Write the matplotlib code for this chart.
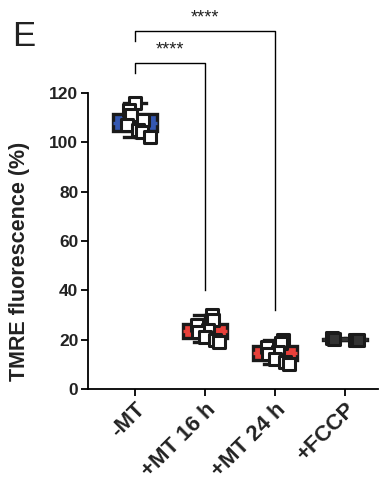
import matplotlib
matplotlib.use("Agg")
import matplotlib.pyplot as plt
import matplotlib.transforms as mtransforms
import numpy as np

plt.rcParams['font.family'] = ['Liberation Sans', 'DejaVu Sans']

categories = ['-MT', '+MT 16 h', '+MT 24 h', '+FCCP']
minus_mt = [116, 113, 111, 109, 107, 105, 104, 102]
mt_16h = [30, 28, 26, 24, 23, 21, 20, 19]
mt_24h = [20, 18.5, 17, 15, 14, 12, 11, 10]
fccp = [20.6, 20.3, 20.0, 19.8]
groups = [minus_mt, mt_16h, mt_24h, fccp]
colors = ['#3457b0', '#e8403a', '#e8403a', '#111111']
yticks = [0, 20, 40, 60, 80, 100, 120]
sig_pairs = [(0, 1, '****'), (0, 2, '****')]

jitter = [
    [0.0, -0.08, -0.05, 0.12, -0.12, 0.05, 0.1, 0.22],
    [0.1, 0.12, -0.12, 0.05, -0.1, 0.0, 0.15, 0.2],
    [0.12, 0.08, -0.12, 0.05, -0.1, 0.0, 0.15, 0.2],
    [-0.18, -0.15, 0.15, 0.18],
]

fig = plt.figure(figsize=(3.88, 4.88), dpi=100)
ax = fig.add_axes([0.2268, 0.2029, 0.747, 0.6066])

pos = np.arange(len(groups))
bp = ax.boxplot(groups, positions=pos, widths=0.63, whis=(0, 100),
                patch_artist=True, showfliers=False,
                boxprops=dict(linewidth=2.4, edgecolor='#1a1a1a'),
                whiskerprops=dict(linewidth=2.4, color='#1a1a1a'),
                capprops=dict(linewidth=2.4, color='#1a1a1a'),
                medianprops=dict(linewidth=2.4),
                capwidths=0.32)
for patch, c in zip(bp['boxes'], colors):
    patch.set_facecolor(c)
for med, c in zip(bp['medians'], colors):
    med.set_color(c if c != '#111111' else '#333333')

for i, g in enumerate(groups):
    xs = pos[i] + np.array(jitter[i][:len(g)])
    face = 'white' if i < 3 else '#333333'
    ax.scatter(xs, g, marker='s', s=65, facecolor=face, edgecolor='#1a1a1a',
               linewidths=2.2, zorder=5)

ax.set_xlim(-0.67, 3.47)
ax.set_ylim(0, 120)
ax.set_yticks(yticks)
ax.set_yticklabels([str(t) for t in yticks], fontsize=12.5, fontweight='bold',
                   color='#222222')
ax.set_xticks(pos)
ax.set_xticklabels(categories, rotation=45, ha='right', rotation_mode='anchor',
                   fontsize=16, fontweight='bold', color='#222222')
offset = mtransforms.ScaledTranslation(6 / 100, -4 / 100, fig.dpi_scale_trans)
for lbl in ax.get_xticklabels():
    lbl.set_transform(lbl.get_transform() + offset)
ax.set_ylabel('TMRE fluorescence (%)', fontsize=15.5, fontweight='bold',
              color='#222222')
ax.yaxis.set_label_coords(-0.2, 0.43)
for s in ['top', 'right']:
    ax.spines[s].set_visible(False)
for s in ['left', 'bottom']:
    ax.spines[s].set_linewidth(1.3)
ax.tick_params(axis='both', direction='out', length=5, width=1.3, pad=2)

# significance brackets
levels = [132, 145]
drops = [40, 32]
for (a, b, txt), lv, dr in zip(sig_pairs, levels, drops):
    ax.plot([a, a, b, b], [lv - 4, lv, lv, dr], color='black', lw=1.0, clip_on=False)
    ax.text((a + b) / 2, lv + 2.0, txt, ha='center', va='bottom',
            fontsize=13, clip_on=False, color='#222222')

fig.text(0.03, 0.96, 'E', fontsize=25, va='top', ha='left', color='#222222')

fig.savefig('out.png', dpi=100)
